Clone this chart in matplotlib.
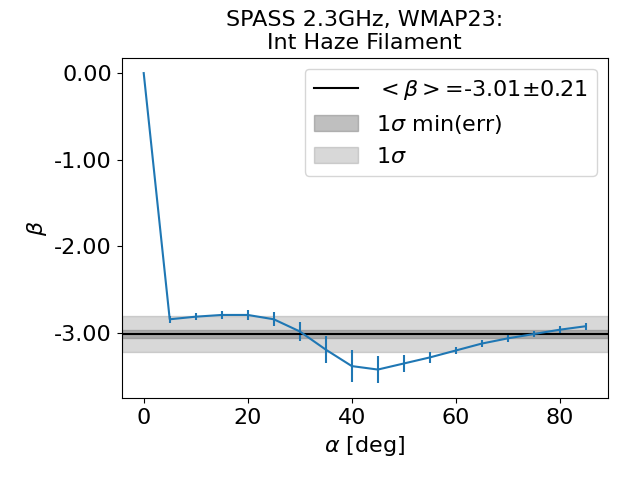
import numpy as np
import matplotlib
matplotlib.use("Agg")
import matplotlib.pyplot as plt

alpha = [0, 5, 10, 15, 20, 25, 30, 35, 40, 45, 50, 55, 60, 65, 70, 75, 80, 85]
beta = [0.0, -2.84, -2.81, -2.79, -2.79, -2.84, -2.98, -3.19, -3.38, -3.42,
        -3.35, -3.28, -3.20, -3.12, -3.06, -3.01, -2.96, -2.92]
beta_err = [0.0, 0.042, 0.042, 0.05, 0.062, 0.081, 0.108, 0.154, 0.181, 0.154,
            0.096, 0.066, 0.042, 0.039, 0.039, 0.035, 0.039, 0.039]

beta_mean = -3.01
sigma = 0.21
sigma_min = 0.045

plt.rcParams['font.size'] = 16

fig, ax = plt.subplots(figsize=(6.4, 4.8), dpi=100)
ax.errorbar(alpha, beta, yerr=beta_err, color='tab:blue')
ax.axhline(beta_mean, color='black', label=r'$<\beta>$=%.2f$\pm$%.2f' % (beta_mean, sigma))
ax.axhspan(beta_mean - sigma_min, beta_mean + sigma_min, color='gray', alpha=0.5,
           label=r'1$\sigma$ min(err)')
ax.axhspan(beta_mean - sigma, beta_mean + sigma, color='gray', alpha=0.3,
           label=r'1$\sigma$')
ax.yaxis.set_major_formatter(matplotlib.ticker.FormatStrFormatter('%.2f'))
ax.set_xlabel(r'$\alpha$ [deg]')
ax.set_ylabel(r'$\beta$')
ax.set_title('SPASS 2.3GHz, WMAP23:\nInt Haze Filament', fontsize=16)
ax.legend(loc='upper right')
fig.subplots_adjust(left=0.19, right=0.95, top=0.88, bottom=0.17)
fig.savefig('out.png')
